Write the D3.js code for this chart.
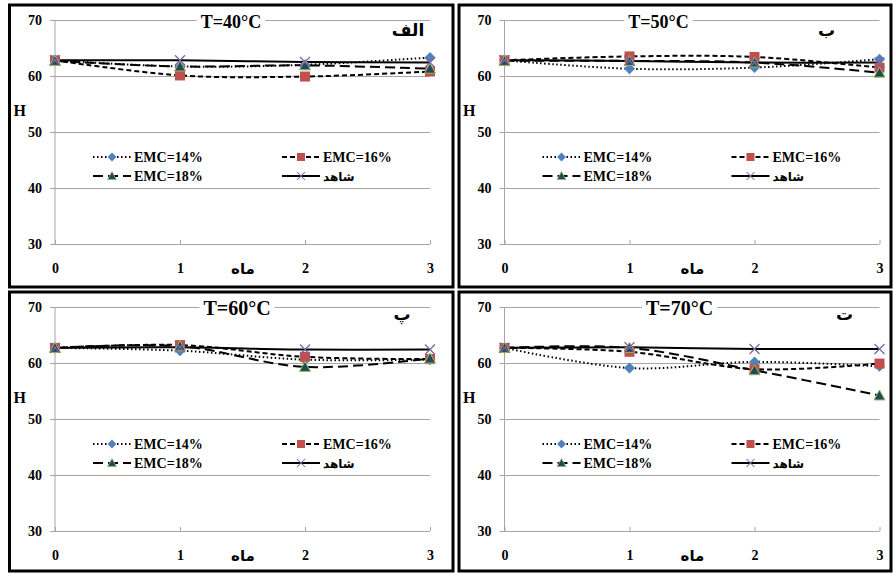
<!DOCTYPE html>
<html>
<head>
<meta charset="utf-8">
<script src="https://cdn.jsdelivr.net/npm/d3@7"></script>
<style>
  body { margin: 0; background: #fff; }
  svg { display: block; }
  text { font-family: "Liberation Serif", "DejaVu Sans", serif; font-weight: bold; fill: #000; }
</style>
</head>
<body>
<div id="chart"></div>
<script>
// months on x axis, H on y axis
const months = [0, 1, 2, 3];
const yTicks = [30, 40, 50, 60, 70];
const panelTitles = ["T=40°C", "T=50°C", "T=60°C", "T=70°C"];
const panelLetters = ["الف", "ب", "پ", "ت"];
const seriesNames = ["EMC=14%", "EMC=16%", "EMC=18%", "شاهد"];
const xLabel = "ماه";
const yLabel = "H";

// one row per panel (40, 50, 60, 70 °C)
const emc14 = [
  [62.8, 61.7, 62.0, 63.3],
  [62.8, 61.3, 61.5, 63.0],
  [62.7, 62.2, 60.6, 60.6],
  [62.7, 59.1, 60.2, 59.4]
];
const emc16 = [
  [62.8, 60.1, 59.9, 60.8],
  [62.8, 63.5, 63.4, 61.5],
  [62.7, 63.2, 61.1, 60.7],
  [62.7, 62.0, 58.9, 59.9]
];
const emc18 = [
  [62.7, 61.7, 61.9, 61.3],
  [62.7, 62.7, 62.4, 60.6],
  [62.7, 63.0, 59.3, 60.8],
  [62.7, 62.7, 58.7, 54.2]
];
const control = [
  [62.8, 62.8, 62.5, 62.4],
  [62.8, 62.7, 62.4, 62.4],
  [62.7, 62.8, 62.4, 62.4],
  [62.7, 62.8, 62.5, 62.5]
];

const W = 893, H = 574;
const svg = d3.select("#chart").append("svg").attr("width", W).attr("height", H);

const frames = [
  {x: 9.5, y: 5, w: 443.5, h: 282, titleX: 176, titleSize: 18, letterX: 353, letterY: 12},
  {x: 459, y: 5, w: 432, h: 282, titleX: 154, titleSize: 18, letterX: 322, letterY: 12},
  {x: 9.5, y: 292, w: 443.5, h: 279, titleX: 182, titleSize: 20, letterX: 347, letterY: 9},
  {x: 459, y: 292, w: 432, h: 279, titleX: 175, titleSize: 20, letterX: 340, letterY: 9}
];

const styles = [
  {dash: "1.5,2.5", marker: "diamond", fill: "#4f81bd", stroke: "#4f81bd"},
  {dash: "5,3", marker: "square", fill: "#c0504d", stroke: "#c0504d"},
  {dash: "10,5", marker: "triangle", fill: "#1f4a5c", stroke: "#9bbb59"},
  {dash: null, marker: "x", fill: "none", stroke: "#8064a2"}
];

function drawMarker(g, type, st) {
  if (type === "diamond") {
    g.append("path").attr("d", "M0,-5.5L5.5,0L0,5.5L-5.5,0Z").attr("fill", st.fill);
  } else if (type === "square") {
    g.append("rect").attr("x", -5).attr("y", -5).attr("width", 10).attr("height", 10).attr("fill", st.fill);
  } else if (type === "triangle") {
    g.append("path").attr("d", "M0,-5.5L5.5,4.5L-5.5,4.5Z").attr("fill", st.fill)
      .attr("stroke", st.stroke).attr("stroke-width", 1);
  } else {
    g.append("path").attr("d", "M-5,-5L5,5M-5,5L5,-5").attr("fill", "none")
      .attr("stroke", st.stroke).attr("stroke-width", 1.3);
  }
}

frames.forEach((f, p) => {
  const g = svg.append("g");
  g.append("rect").attr("x", f.x).attr("y", f.y).attr("width", f.w).attr("height", f.h)
    .attr("fill", "#fff").attr("stroke", "#000").attr("stroke-width", 3);

  const left = f.x + 45.5, top = f.y + 15, pw = 375, ph = 224;
  const x = d3.scaleLinear().domain([0, 3]).range([left, left + pw]);
  const y = d3.scaleLinear().domain([30, 70]).range([top + ph, top]);

  // gridlines + y axis
  const yAxis = d3.axisLeft(y).tickValues(yTicks).tickSize(-pw).tickPadding(13);
  const ya = g.append("g").attr("transform", `translate(${left},0)`).call(yAxis);
  ya.select(".domain").remove();
  ya.selectAll(".tick line").attr("stroke", "#a6a6a6").attr("x1", -5);
  ya.selectAll(".tick text").attr("font-size", 14).attr("font-family", "Liberation Serif").attr("font-weight", "bold").attr("fill", "#000");
  g.append("line").attr("x1", left).attr("x2", left).attr("y1", top).attr("y2", top + ph).attr("stroke", "#a6a6a6");

  // x axis
  const xAxis = d3.axisBottom(x).tickValues(months).tickFormat(d3.format("d")).tickSize(-4).tickPadding(19);
  const xa = g.append("g").attr("transform", `translate(0,${top + ph})`).call(xAxis);
  xa.select(".domain").remove();
  xa.selectAll(".tick line").attr("stroke", "#a6a6a6");
  xa.selectAll(".tick text").attr("font-size", 14).attr("font-family", "Liberation Serif").attr("font-weight", "bold").attr("fill", "#000");

  g.append("text").attr("x", left + 188).attr("y", top + ph + 30).attr("text-anchor", "middle")
    .attr("font-size", 15).attr("font-family", "DejaVu Sans").text(xLabel);
  g.append("text").attr("x", f.x + 4).attr("y", top + 96).attr("font-size", 16).text(yLabel);

  // series
  const all = [emc14[p], emc16[p], emc18[p], control[p]];
  const line = d3.line().x((d, i) => x(months[i])).y(d => y(d)).curve(d3.curveCatmullRom.alpha(0.5));
  all.forEach((vals, s) => {
    const st = styles[s];
    g.append("path").attr("d", line(vals)).attr("fill", "none").attr("stroke", "#000")
      .attr("stroke-width", 2).attr("stroke-dasharray", st.dash);
  });
  all.forEach((vals, s) => {
    vals.forEach((v, i) => {
      drawMarker(g.append("g").attr("transform", `translate(${x(months[i])},${y(v)})`), styles[s].marker, styles[s]);
    });
  });

  // title over the top gridline
  const titleBg = g.append("rect").attr("fill", "#fff");
  const title = g.append("text").attr("x", left + f.titleX).attr("y", top + 8).attr("text-anchor", "middle")
    .attr("font-size", f.titleSize).text(panelTitles[p]);
  const bb = title.node().getBBox();
  titleBg.attr("x", bb.x - 4).attr("y", bb.y).attr("width", bb.width + 8).attr("height", bb.height);

  g.append("text").attr("x", left + f.letterX).attr("y", top + f.letterY + 4).attr("text-anchor", "middle")
    .attr("font-size", 17).attr("font-family", "DejaVu Sans").text(panelLetters[p]);

  // legend
  const legPos = [[38, 137], [227, 137], [38, 156], [227, 156]];
  seriesNames.forEach((name, s) => {
    const st = styles[s];
    const lx = left + legPos[s][0], ly = top + legPos[s][1];
    g.append("line").attr("x1", lx).attr("x2", lx + 38).attr("y1", ly).attr("y2", ly)
      .attr("stroke", "#000").attr("stroke-width", 2).attr("stroke-dasharray", st.dash);
    const mg = g.append("g").attr("transform", `translate(${lx + 19},${ly}) scale(0.8)`);
    drawMarker(mg, st.marker, st);
    g.append("text").attr("x", lx + 41).attr("y", ly + 5).attr("font-size", s === 3 ? 12 : 14)
      .attr("font-family", s === 3 ? "DejaVu Sans" : "Liberation Serif").text(name);
  });
});
</script>
</body>
</html>
